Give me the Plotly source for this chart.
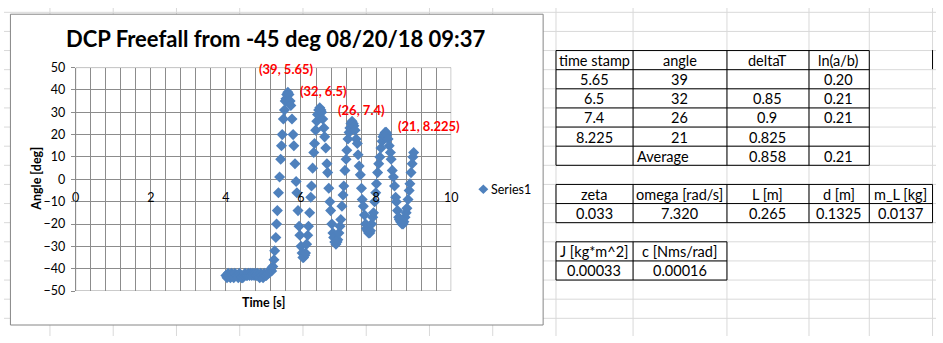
import plotly.graph_objects as go

W, H = 943, 343

# ---------------- data ----------------
time_s = [
    4.00, 4.03, 4.06, 4.09, 4.12, 4.15, 4.18, 4.21, 4.24, 4.27, 4.30, 4.33, 4.36, 4.39,
    4.42, 4.45, 4.48, 4.51, 4.54, 4.57, 4.60, 4.63, 4.66, 4.69, 4.72, 4.75, 4.78, 4.81,
    4.84, 4.87, 4.90, 4.93, 4.96, 4.99, 5.02, 5.05, 5.08, 5.11, 5.14, 5.17, 5.20,
    5.22, 5.25, 5.28, 5.30, 5.33, 5.35, 5.37, 5.40, 5.43, 5.46, 5.48, 5.50, 5.53, 5.56,
    5.58, 5.60, 5.62, 5.65,
    5.68, 5.71, 5.73, 5.76, 5.79, 5.81, 5.84, 5.87, 5.89, 5.92, 5.95, 5.97, 6.00, 6.03,
    6.05, 6.07,
    6.10, 6.12, 6.15, 6.18, 6.20, 6.23, 6.26, 6.28, 6.31, 6.34, 6.36, 6.39, 6.42, 6.44,
    6.47, 6.50,
    6.53, 6.55, 6.58, 6.61, 6.63, 6.66, 6.69, 6.71, 6.74, 6.77, 6.79, 6.82, 6.85, 6.87,
    6.90, 6.93,
    6.96, 6.98, 7.01, 7.04, 7.06, 7.09, 7.12, 7.14, 7.17, 7.20, 7.22, 7.25, 7.28, 7.30,
    7.33, 7.36,
    7.39, 7.41, 7.44, 7.47, 7.50, 7.52, 7.55, 7.58, 7.61, 7.63, 7.66, 7.69, 7.72, 7.74,
    7.77, 7.80,
    7.83, 7.85, 7.88, 7.91, 7.93, 7.96, 7.99, 8.01, 8.04, 8.07, 8.10, 8.13, 8.16, 8.18,
    8.21, 8.24,
    8.27, 8.29, 8.32, 8.35, 8.38, 8.40, 8.43, 8.46, 8.49, 8.52, 8.54, 8.57, 8.60, 8.62,
    8.65, 8.69,
    8.72, 8.74, 8.77, 8.80, 8.82, 8.85, 8.88, 8.90, 8.93, 8.96, 8.98, 9.00,
]
angle_deg = [
    -43, -44, -42, -43, -44, -42, -43, -44, -42, -43, -43, -44, -42, -43,
    -44, -44, -43, -42, -43, -43, -42, -43, -42, -43, -42, -43, -42, -43,
    -42, -43, -44, -42, -43, -44, -42, -43, -43, -42, -42, -41, -40,
    -41, -39, -36, -32, -26, -20, -14, -6, 1, 9, 15, 20, 27, 31,
    35, 36, 38, 39,
    38, 35, 33, 27, 20, 15, 7, -1, -6, -14, -21, -25, -30, -33,
    -35, -35,
    -34, -33, -29, -25, -21, -15, -8, -3, 5, 12, 16, 22, 26, 29,
    31, 32,
    31, 30, 27, 23, 19, 14, 7, 3, -4, -10, -14, -20, -24, -26,
    -28, -29,
    -28, -27, -24, -21, -18, -12, -7, -3, 4, 9, 13, 18, 21, 23,
    25, 26,
    25, 24, 22, 18, 16, 11, 6, 2, -4, -9, -12, -16, -20, -22,
    -23, -24,
    -24, -23, -20, -17, -15, -10, -6, -2, 3, 7, 10, 14, 17, 19,
    20, 21,
    21, 20, 18, 15, 12, 9, 4, 1, -3, -8, -10, -14, -17, -18,
    -19, -20,
    -20, -19, -17, -15, -13, -9, -5, -2, 3, 7, 10, 12,
]

peak_time = [5.65, 6.5, 7.4, 8.225]
peak_angle = [39, 32, 26, 21]
peak_label = ["(39, 5.65)", "(32, 6.5)", "(26, 7.4)", "(21, 8.225)"]

x_ticks = [0, 2, 4, 6, 8, 10]
y_ticks = [-50, -40, -30, -20, -10, 0, 10, 20, 30, 40, 50]

tbl1_header = ["time stamp", "angle", "deltaT", "ln(a/b)"]
tbl1_time = ["5.65", "6.5", "7.4", "8.225"]
tbl1_angle = ["39", "32", "26", "21"]
tbl1_deltaT = ["", "0.85", "0.9", "0.825"]
tbl1_ln = ["0.20", "0.21", "0.21", ""]
tbl1_avg = ["", "Average", "0.858", "0.21"]

tbl2_header = ["zeta", "omega [rad/s]", "L [m]", "d [m]", "m_L [kg]"]
tbl2_values = ["0.033", "7.320", "0.265", "0.1325", "0.0137"]

tbl3_header = ["J [kg*m^2]", "c [Nms/rad]"]
tbl3_values = ["0.00033", "0.00016"]

# ---------------- layout geometry (pixels) ----------------
PL, PR, PT, PB = 72.5, 452.5, 62.3, 296.0
FONT = "Lato, 'Open Sans', sans-serif"
BLUE = "#4F81BD"
GRID = "#8C8C8C"


def px(x):
    return x / W


def py(y):
    return 1 - y / H


shapes = []
annotations = []

# spreadsheet cell grid
col_lines = [46, 110, 174, 238, 302, 366, 430, 494, 558, 636, 731, 814, 875, 939]
for x in col_lines:
    shapes.append(dict(type="line", xref="paper", yref="paper", x0=px(x + 0.5), x1=px(x + 0.5),
                       y0=0, y1=1, line=dict(color="#D9D9D9", width=1), layer="below"))
for y in range(4, H, 20):
    shapes.append(dict(type="line", xref="paper", yref="paper", x0=0, x1=1,
                       y0=py(y + 0.5), y1=py(y + 0.5), line=dict(color="#D9D9D9", width=1), layer="below"))

# chart area
shapes.append(dict(type="rect", xref="paper", yref="paper", x0=px(6.5), x1=px(545.5),
                   y0=py(331.5), y1=py(6.5), fillcolor="white",
                   line=dict(color="#868686", width=1), layer="below"))

# plot area border
shapes.append(dict(type="rect", xref="x", yref="y", x0=0, x1=10, y0=-50, y1=50,
                   line=dict(color=GRID, width=1), layer="above"))


def table(xs, ys):
    for x in xs:
        shapes.append(dict(type="line", xref="paper", yref="paper", x0=px(x + 0.5), x1=px(x + 0.5),
                           y0=py(ys[0] + 0.5), y1=py(ys[-1] + 0.5), line=dict(color="black", width=1)))
    for y in ys:
        shapes.append(dict(type="line", xref="paper", yref="paper", x0=px(xs[0] + 0.5), x1=px(xs[-1] + 0.5),
                           y0=py(y + 0.5), y1=py(y + 0.5), line=dict(color="black", width=1)))


def cell(text, x0, x1, y0, align="center"):
    if not text:
        return
    if align == "left":
        annotations.append(dict(text=text, xref="paper", yref="paper", x=px(x0 + 2), y=py(y0 + 11),
                                xanchor="left", yanchor="middle", showarrow=False,
                                font=dict(family=FONT, size=14.5, color="black")))
    else:
        annotations.append(dict(text=text, xref="paper", yref="paper", x=px((x0 + x1) / 2), y=py(y0 + 11),
                                xanchor="center", yanchor="middle", showarrow=False,
                                font=dict(family=FONT, size=14.5, color="black")))


cx = [558, 636, 731, 814, 875, 939]
# table 1
t1y = [44, 64, 84, 104, 124, 144, 164]
table(cx[:5], t1y)
for i, h in enumerate(tbl1_header):
    cell(h, cx[i], cx[i + 1], t1y[0])
for r in range(4):
    row = [tbl1_time[r], tbl1_angle[r], tbl1_deltaT[r], tbl1_ln[r]]
    for i, v in enumerate(row):
        cell(v, cx[i], cx[i + 1], t1y[r + 1])
for i, v in enumerate(tbl1_avg):
    cell(v, cx[i], cx[i + 1], t1y[5], align="left" if v == "Average" else "center")
shapes.append(dict(type="line", xref="paper", yref="paper", x0=px(939.5), x1=px(939.5),
                   y0=py(44), y1=py(64), line=dict(color="black", width=1)))

# table 2
t2y = [184, 204, 224]
table(cx, t2y)
for i, h in enumerate(tbl2_header):
    cell(h, cx[i], cx[i + 1], t2y[0])
for i, v in enumerate(tbl2_values):
    cell(v, cx[i], cx[i + 1], t2y[1])

# table 3
t3y = [244, 264, 284]
table(cx[:3], t3y)
for i, h in enumerate(tbl3_header):
    cell(h, cx[i], cx[i + 1], t3y[0])
for i, v in enumerate(tbl3_values):
    cell(v, cx[i], cx[i + 1], t3y[1])

# title and axis titles
annotations.append(dict(text="<b>DCP Freefall from -45 deg 08/20/18 09:37</b>", xref="paper", yref="paper",
                        x=px(275), y=py(32), xanchor="center", yanchor="middle", showarrow=False,
                        font=dict(family=FONT, size=22, color="black")))
annotations.append(dict(text="<b>Angle [deg]</b>", xref="paper", yref="paper", x=px(33), y=py(179),
                        xanchor="center", yanchor="middle", textangle=-90, showarrow=False,
                        font=dict(family=FONT, size=12.5, color="black")))
annotations.append(dict(text="<b>Time [s]</b>", xref="paper", yref="paper", x=px(262.5), y=py(308),
                        xanchor="center", yanchor="middle", showarrow=False,
                        font=dict(family=FONT, size=12.5, color="black")))

# legend
lx, ly, lr = 485, 189.5, 5
shapes.append(dict(type="path", xref="paper", yref="paper",
                   path=f"M {px(lx)} {py(ly - lr)} L {px(lx + lr)} {py(ly)} L {px(lx)} {py(ly + lr)} L {px(lx - lr)} {py(ly)} Z",
                   fillcolor=BLUE, line=dict(width=0)))
annotations.append(dict(text="Series1", xref="paper", yref="paper", x=px(491), y=py(189.5),
                        xanchor="left", yanchor="middle", showarrow=False,
                        font=dict(family=FONT, size=12.5, color="black")))

# peak labels
label_dx = [-1.2, 3.8, 8.0, 44.3]
label_dy = [23.6, 17.1, 11.1, 6.1]
for t, a, s, dx, dy in zip(peak_time, peak_angle, peak_label, label_dx, label_dy):
    annotations.append(dict(text=f"<b>{s}</b>", x=t, y=a, xref="x", yref="y", xshift=dx, yshift=dy,
                            showarrow=False, xanchor="center", yanchor="middle",
                            font=dict(family=FONT, size=13, color="#FF0000")))

fig = go.Figure()
fig.add_trace(go.Scatter(x=time_s, y=angle_deg, mode="markers", name="Series1",
                         marker=dict(symbol="diamond", size=8.5, color=BLUE, line=dict(width=0)),
                         showlegend=False))

ydom = [1 - PB / H, 1 - PT / H]
zero_pos = ydom[0] + (ydom[1] - ydom[0]) * 0.5

fig.update_layout(
    width=W, height=H, autosize=False,
    margin=dict(l=0, r=0, t=0, b=0),
    paper_bgcolor="white", plot_bgcolor="white",
    showlegend=False,
    shapes=shapes, annotations=annotations,
    xaxis=dict(domain=[PL / W, PR / W], range=[0, 10], anchor="free", position=zero_pos,
               tickvals=x_ticks, showgrid=True, gridcolor=GRID, gridwidth=1,
               minor=dict(dtick=0.4, tick0=0, showgrid=True, gridcolor=GRID, gridwidth=1),
               zeroline=False, showline=False, ticks="", ticklabelstandoff=9,
               tickfont=dict(family=FONT, size=12.5, color="black")),
    yaxis=dict(domain=ydom, range=[-50, 50], tickvals=y_ticks, showgrid=True, gridcolor=GRID,
               gridwidth=1, zeroline=False, showline=True, linecolor=GRID, linewidth=1,
               ticks="outside", ticklen=4, tickcolor=GRID, ticklabelstandoff=3,
               tickfont=dict(family=FONT, size=12.5, color="black")),
)

fig.write_html("out.html")
